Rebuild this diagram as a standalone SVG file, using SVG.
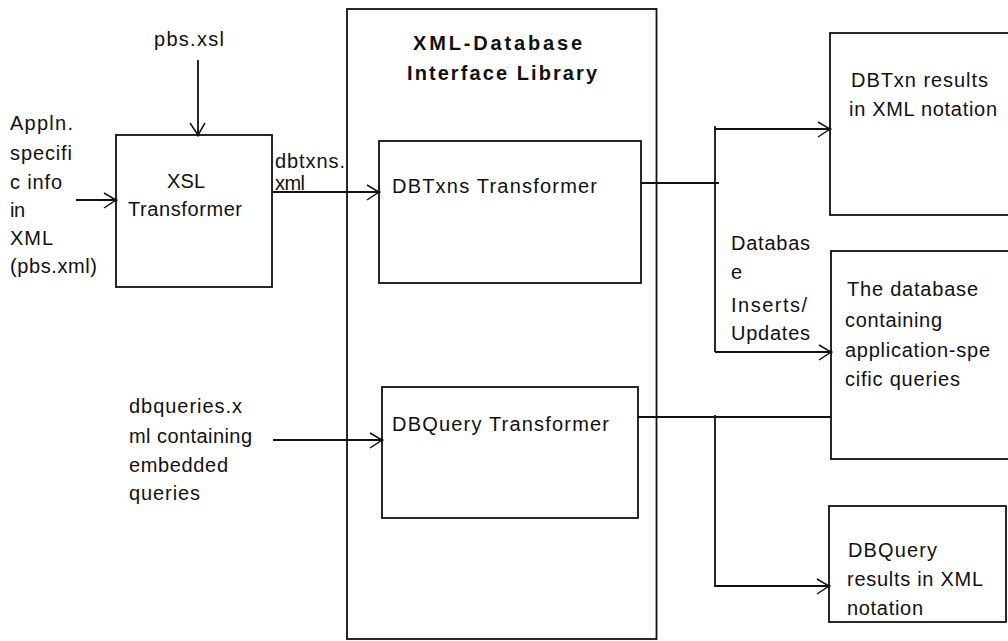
<svg xmlns="http://www.w3.org/2000/svg" width="1008" height="641" viewBox="0 0 1008 641">
  <style>
    .box { fill: none; stroke: #111; stroke-width: 1.8; }
    .wire { fill: none; stroke: #111; stroke-width: 1.8; }
    .lbl { font-family: "Liberation Sans", Arial, sans-serif; font-size: 20px; fill: #111; }
    .title { font-family: "Liberation Sans", Arial, sans-serif; font-size: 20px; font-weight: bold; fill: #111; }
  </style>
  <defs>
    <marker id="open" markerUnits="userSpaceOnUse" markerWidth="20" markerHeight="20" viewBox="-14 -10 16 20" refX="0" refY="0" orient="auto">
      <path d="M -12 -7 L 0 0 L -12 8" fill="none" stroke="#111" stroke-width="1.5"/>
      <circle cx="0" cy="0" r="1.6" fill="#111"/>
    </marker>
  </defs>
  <rect width="1008" height="641" fill="#fff"/>

  <!-- library container -->
  <g id="library">
    <rect class="box" x="347" y="9" width="309.5" height="630"/>
    <text class="title" x="413" y="50" textLength="169" lengthAdjust="spacing">XML-Database</text>
    <text class="title" x="407" y="80" textLength="190" lengthAdjust="spacing">Interface Library</text>
  </g>

  <g id="xsl-transformer">
    <rect class="box" x="116" y="135" width="156" height="152"/>
    <text class="lbl" x="167" y="188" textLength="38" lengthAdjust="spacing">XSL</text>
    <text class="lbl" x="128" y="216" textLength="114" lengthAdjust="spacing">Transformer</text>
  </g>

  <g id="dbtxns-transformer">
    <rect class="box" x="379" y="141" width="262" height="142"/>
    <text class="lbl" x="392" y="193" textLength="205" lengthAdjust="spacing">DBTxns Transformer</text>
  </g>

  <g id="dbquery-transformer">
    <rect class="box" x="382" y="387" width="256" height="131"/>
    <text class="lbl" x="392" y="431" textLength="217" lengthAdjust="spacing">DBQuery Transformer</text>
  </g>

  <g id="dbtxn-results">
    <rect class="box" x="830" y="33" width="190" height="182"/>
    <text class="lbl" x="851" y="87" textLength="137" lengthAdjust="spacing">DBTxn results</text>
    <text class="lbl" x="849" y="116" textLength="148" lengthAdjust="spacing">in XML notation</text>
  </g>

  <g id="database">
    <rect class="box" x="831" y="251" width="190" height="208"/>
    <text class="lbl" x="847" y="296" textLength="131" lengthAdjust="spacing">The database</text>
    <text class="lbl" x="845" y="327" textLength="97" lengthAdjust="spacing">containing</text>
    <text class="lbl" x="845" y="357" textLength="145" lengthAdjust="spacing">application-spe</text>
    <text class="lbl" x="845" y="386" textLength="115" lengthAdjust="spacing">cific queries</text>
  </g>

  <g id="dbquery-results">
    <rect class="box" x="829" y="506" width="177" height="116"/>
    <text class="lbl" x="848" y="557" textLength="89" lengthAdjust="spacing">DBQuery</text>
    <text class="lbl" x="847" y="586" textLength="136" lengthAdjust="spacing">results in XML</text>
    <text class="lbl" x="847" y="615" textLength="76" lengthAdjust="spacing">notation</text>
  </g>

  <!-- free-standing input / edge labels -->
  <g id="pbs-xsl">
    <text class="lbl" x="154" y="46" textLength="70" lengthAdjust="spacing">pbs.xsl</text>
  </g>

  <g id="appln-input">
    <text class="lbl" x="10" y="130" textLength="63" lengthAdjust="spacing">Appln.</text>
    <text class="lbl" x="10" y="160" textLength="62" lengthAdjust="spacing">specifi</text>
    <text class="lbl" x="10" y="189" textLength="52" lengthAdjust="spacing">c info</text>
    <text class="lbl" x="10" y="217" textLength="15" lengthAdjust="spacing">in</text>
    <text class="lbl" x="10" y="245" textLength="43" lengthAdjust="spacing">XML</text>
    <text class="lbl" x="10" y="273" textLength="87" lengthAdjust="spacing">(pbs.xml)</text>
  </g>

  <g id="dbqueries-input">
    <text class="lbl" x="129" y="413" textLength="113" lengthAdjust="spacing">dbqueries.x</text>
    <text class="lbl" x="129" y="443" textLength="123" lengthAdjust="spacing">ml containing</text>
    <text class="lbl" x="129" y="472" textLength="99" lengthAdjust="spacing">embedded</text>
    <text class="lbl" x="129" y="500" textLength="71" lengthAdjust="spacing">queries</text>
  </g>

  <g id="edge-labels">
    <text class="lbl" x="275" y="168" textLength="70" lengthAdjust="spacing">dbtxns.</text>
    <text class="lbl" x="275" y="190" textLength="30" lengthAdjust="spacing">xml</text>
    <text class="lbl" x="731" y="250" textLength="79" lengthAdjust="spacing">Databas</text>
    <text class="lbl" x="731" y="279">e</text>
    <text class="lbl" x="731" y="312" textLength="76" lengthAdjust="spacing">Inserts/</text>
    <text class="lbl" x="731" y="340" textLength="79" lengthAdjust="spacing">Updates</text>
  </g>

  <!-- connectors -->
  <g id="connectors">
    <path class="wire" d="M 198 60 L 198 135" marker-end="url(#open)"/>
    <path class="wire" d="M 76 200 L 116 200" marker-end="url(#open)"/>
    <path class="wire" d="M 272 192 L 379 192" marker-end="url(#open)"/>
    <path class="wire" d="M 641 183 L 719 183"/>
    <path class="wire" d="M 715 126 L 715 352"/>
    <path class="wire" d="M 715 129 L 830 129" marker-end="url(#open)"/>
    <path class="wire" d="M 715 352 L 831 352" marker-end="url(#open)"/>
    <path class="wire" d="M 273 440 L 382 440" marker-end="url(#open)"/>
    <path class="wire" d="M 638 417 L 831 417"/>
    <path class="wire" d="M 715 415 L 715 586 L 829 586" marker-end="url(#open)"/>
  </g>
</svg>
